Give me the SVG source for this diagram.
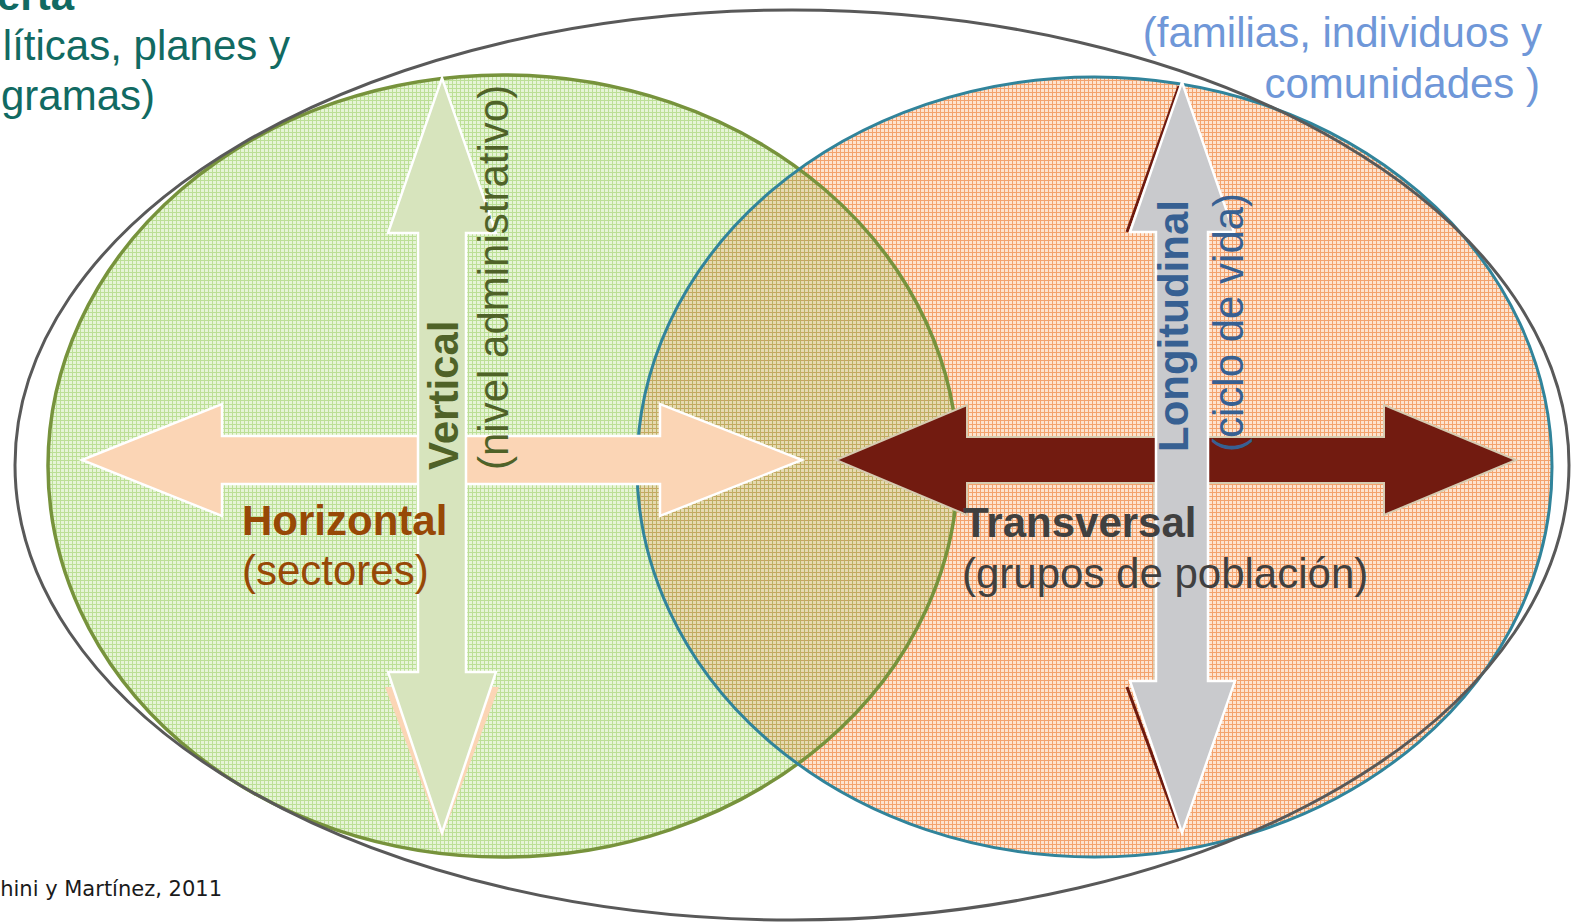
<svg xmlns="http://www.w3.org/2000/svg" width="1572" height="923" viewBox="0 0 1572 923">
<style>
text{font-family:"Liberation Sans",Arial,sans-serif;font-size:42px}
.b{font-weight:bold}
.teal{fill:#116a62}
.blue{fill:#6f97d8}
.olive{fill:#4f6228}
.brown{fill:#974806}
.grey{fill:#404040}
.navy{fill:#376092}
.foot{font-family:"DejaVu Sans",sans-serif;font-size:21px;fill:#1a1a1a}
.arrowW{stroke:#ffffff;stroke-width:2.5;stroke-linejoin:miter}
</style>
<defs>
<pattern id="pg" width="4" height="4" patternUnits="userSpaceOnUse"><rect width="4" height="4" fill="#e6f4d6"/><rect width="4" height="1" fill="#bcdf96"/><rect width="1" height="4" fill="#bcdf96"/></pattern>
<pattern id="po" width="4" height="4" patternUnits="userSpaceOnUse"><rect width="4" height="4" fill="#fde3cf"/><rect width="4" height="1" fill="#f3a36e"/><rect width="1" height="4" fill="#f3a36e"/></pattern>
<pattern id="pm" width="4" height="4" patternUnits="userSpaceOnUse"><rect width="4" height="4" fill="#e6dab0"/><rect width="4" height="1" fill="#c9a460"/><rect width="1" height="4" fill="#b9b264"/></pattern>
<clipPath id="clipO"><ellipse cx="1094.5" cy="467" rx="457.5" ry="390"/></clipPath>
</defs>

<g id="areas">
<ellipse id="green-fill" cx="503" cy="466" rx="455" ry="391" fill="url(#pg)"/>
<ellipse id="orange-fill" cx="1094.5" cy="467" rx="457.5" ry="390" fill="url(#po)"/>
<ellipse id="overlap-fill" cx="503" cy="466" rx="455" ry="391" fill="url(#pm)" clip-path="url(#clipO)"/>
<ellipse cx="503" cy="466" rx="455" ry="391" fill="none" stroke="#77933c" stroke-width="3.5"/>
<ellipse cx="1094.5" cy="467" rx="457.5" ry="390" fill="none" stroke="#31849b" stroke-width="3"/>
<ellipse id="outer" cx="792" cy="465" rx="777" ry="455" fill="none" stroke="#595959" stroke-width="3"/>
</g>

<g id="connectors">
<g id="arrow-horizontal">
<polygon class="arrowW" fill="#fbd5b5" points="82,460 222,404 222,436 660,436 660,404 802,460 660,516 660,484 222,484 222,516"/>
</g>
<g id="arrow-vertical">
<polygon fill="#fbd5b5" points="385,687 499,687 442,837"/>
<polygon class="arrowW" fill="#d7e4bd" points="442,78 496,233 466,233 466,672 496,672 442,833 388,672 418,672 418,233 388,233"/>
</g>
<g id="arrow-transversal">
<polygon fill="#721b10" stroke="#d6cbb0" stroke-width="2" points="836,460 967,405 967,437 1384,437 1384,405 1516,460 1384,515 1384,483 967,483 967,515"/>
</g>
<g id="arrow-longitudinal">
<line x1="1127" y1="232" x2="1179" y2="86" stroke="#6e1a0f" stroke-width="3"/>
<line x1="1127" y1="687" x2="1179" y2="828" stroke="#6e1a0f" stroke-width="3"/>
<line x1="1154" y1="232" x2="1154" y2="437" stroke="#d6cbb0" stroke-width="1.5"/>
<line x1="1154" y1="483" x2="1154" y2="681" stroke="#d6cbb0" stroke-width="1.5"/>
<polygon class="arrowW" fill="#c9cacd" points="1182,82 1234,232 1208,232 1208,681 1235,681 1182,833 1130,681 1156,681 1156,232 1130,232"/>
</g>
</g>

<g id="labels">
<g id="label-oferta">
<text class="b teal" x="-3" y="10">erta</text>
<text class="teal" x="290" y="60" text-anchor="end">líticas, planes y</text>
<text class="teal" x="155" y="110" text-anchor="end">gramas)</text>
</g>
<g id="label-familias">
<text class="blue" x="1542" y="47" text-anchor="end">(familias, individuos y</text>
<text class="blue" x="1540" y="98" text-anchor="end">comunidades )</text>
</g>
<g id="label-vertical">
<text class="b olive" transform="translate(458,470) rotate(-90)">Vertical</text>
<text class="olive" transform="translate(508,470) rotate(-90)">(nivel administrativo)</text>
</g>
<g id="label-horizontal">
<text class="b brown" x="242" y="535">Horizontal</text>
<text class="brown" x="242" y="585">(sectores)</text>
</g>
<g id="label-transversal">
<text class="b grey" x="963" y="537">Transversal</text>
<text class="grey" x="962" y="588">(grupos de población)</text>
</g>
<g id="label-longitudinal">
<text class="b navy" transform="translate(1188,452) rotate(-90)">Longitudinal</text>
<text class="navy" transform="translate(1243,452) rotate(-90)">(ciclo de vida)</text>
</g>
<g id="label-source">
<text class="foot" x="222" y="896" text-anchor="end">hini y Martínez, 2011</text>
</g>
</g>
</svg>
